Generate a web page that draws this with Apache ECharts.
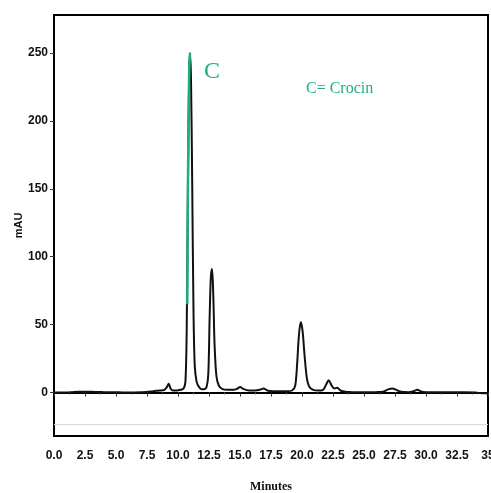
<!DOCTYPE html>
<html>
<head>
<meta charset="utf-8">
<script src="https://cdn.jsdelivr.net/npm/echarts@6/dist/echarts.min.js"></script>
<style>
html,body{margin:0;padding:0;background:#fff;}
#c{width:491px;height:493px;}
</style>
</head>
<body>
<div id="c"></div>
<script>
// Retention time (minutes)
const timeMin = [0,0.5,1.0,1.5,2.0,2.5,3.0,3.5,4.0,4.5,5.0,5.5,6.0,6.5,7.0,7.5,8.0,8.5,8.9,9.1,9.25,9.4,9.6,9.9,10.2,10.45,10.6,10.7,10.8,10.9,10.97,11.05,11.15,11.25,11.35,11.5,11.7,11.9,12.1,12.3,12.45,12.55,12.65,12.75,12.85,12.95,13.1,13.3,13.6,14.0,14.5,14.8,15.0,15.3,15.7,16.2,16.6,16.9,17.2,17.6,18.2,18.8,19.2,19.45,19.6,19.75,19.9,20.05,20.2,20.4,20.6,20.9,21.3,21.7,21.95,22.15,22.4,22.6,22.85,23.1,23.5,24.0,25.0,26.0,26.6,27.0,27.3,27.6,28.0,28.6,29.0,29.3,29.6,30.0,31.0,32.0,33.0,34.0,34.5,35.0];
// Absorbance (mAU)
const absorbance = [0,0,0,0.3,0.5,0.5,0.6,0.4,0.3,0.2,0.2,0.1,0.1,0.1,0.2,0.4,1.0,1.5,2,4,6.5,3,1.5,1.5,2,3,8,45,150,235,250,230,150,60,20,8,4,2.5,2.5,4,15,55,85,91,70,35,12,5,2.5,2,2,3,4,2.5,1.5,1.5,2,3,1.5,1,1,1,1.5,5,20,42,52,45,28,10,4,2,1.5,2,6,9,5,3,3.5,1.5,0.5,0.3,0.2,0.3,0.8,2.5,3,2,0.5,0.3,1,2,0.8,0.3,0.2,0.2,0.2,0,-0.5,-0.5];
// Crocin peak flank (highlighted green)
const crocinTime = [10.75,10.8,10.9,10.97];
const crocinAbs = [65,150,235,250];
const xTicks = ['0.0','2.5','5.0','7.5','10.0','12.5','15.0','17.5','20.0','22.5','25.0','27.5','30.0','32.5','35'];

const mainData = timeMin.map((t,i)=>[t,absorbance[i]]);
const greenData = crocinTime.map((t,i)=>[t,crocinAbs[i]]);

const chart = echarts.init(document.getElementById('c'));
const tickFont = {fontFamily:'Liberation Sans Narrow, Liberation Sans, sans-serif', fontWeight:'bold', fontSize:12, color:'#111'};
chart.setOption({
  animation:false,
  backgroundColor:'#fff',
  grid:{left:54,right:3,top:15,bottom:57,containLabel:false,outerBoundsMode:'none',show:true,borderColor:'#000',borderWidth:2,backgroundColor:'transparent'},
  xAxis:{
    type:'value',min:0,max:35,interval:2.5,
    name:'Minutes',nameLocation:'middle',nameGap:45,nameMoveOverlap:false,
    nameTextStyle:{fontFamily:'Liberation Serif, serif',fontWeight:'bold',fontSize:12,color:'#111'},
    axisLine:{show:true,lineStyle:{color:'#000',width:2}},
    axisTick:{show:true,length:4,lineStyle:{color:'#333'}},
    minorTick:{show:true,splitNumber:2,length:2,lineStyle:{color:'#666'}},
    splitLine:{show:false},
    axisLabel:Object.assign({margin:14,formatter:(v)=>xTicks[Math.round(v/2.5)]||''},tickFont)
  },
  yAxis:{
    type:'value',min:-32,max:278,splitNumber:6,
    name:'mAU',nameLocation:'middle',nameGap:30,nameRotate:90,nameMoveOverlap:false,
    nameTextStyle:{fontFamily:'Liberation Sans, sans-serif',fontWeight:'bold',fontSize:11,color:'#111'},
    axisLine:{show:true,lineStyle:{color:'#000',width:2}},
    axisTick:{show:true,length:4,lineStyle:{color:'#333'}},
    splitLine:{show:false},
    axisLabel:Object.assign({margin:6,showMinLabel:false,showMaxLabel:false,formatter:(v)=>(v%50===0?String(v):'')},tickFont)
  },
  series:[
    {type:'line',data:mainData,showSymbol:false,smooth:0.3,lineStyle:{color:'#111',width:2},
     markLine:{silent:true,symbol:'none',label:{show:false},lineStyle:{color:'#d8d8d8',width:1,type:'solid'},data:[{yAxis:-23}]}},
    {type:'line',data:greenData,showSymbol:false,smooth:0.3,lineStyle:{color:'#1fae84',width:2.5},z:3}
  ],
  graphic:[
    {type:'text',left:204,top:60,style:{text:'C',fill:'#1fae84',font:'24px "Liberation Serif", serif'}},
    {type:'text',left:306,top:81,style:{text:'C= Crocin',fill:'#1fae84',font:'16px "Liberation Serif", serif'}}
  ]
});
</script>
</body>
</html>
